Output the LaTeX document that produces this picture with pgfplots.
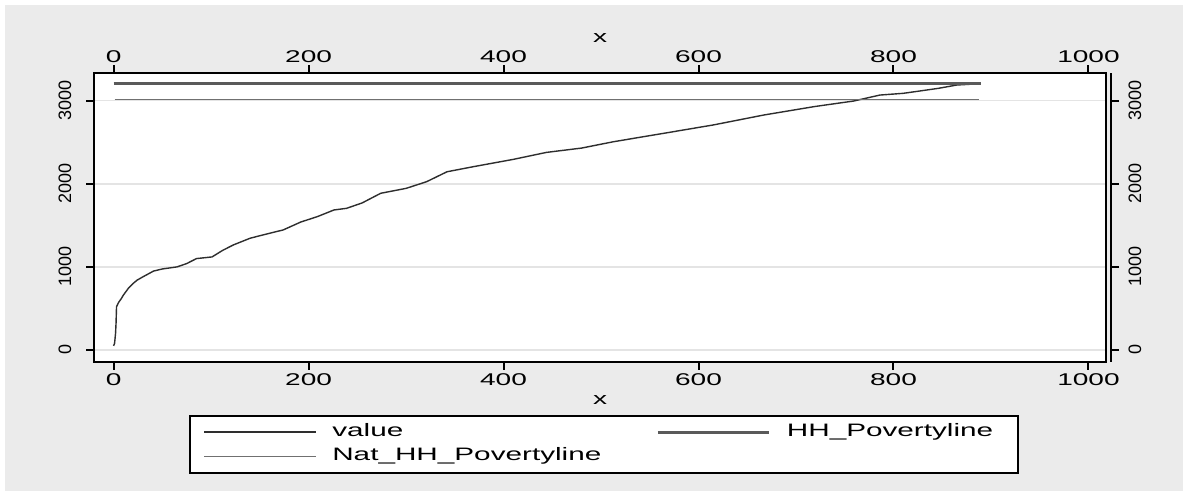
\documentclass[border=0pt]{standalone}
\usepackage{fontspec}
\setmainfont{Liberation Sans}
\newfontfamily\wide[FakeStretch=1.65]{Liberation Sans}
\usepackage{pgfplots}
\usepackage{pgfplotstable}
\pgfplotsset{compat=1.18}
\pgfplotsset{legend image code/.code={\draw[#1] (0pt,0pt) -- (111.6pt,0pt);}}
\definecolor{bggray}{HTML}{EBEBEB}
\definecolor{gridgray}{HTML}{E4E4E4}
\definecolor{hhgray}{HTML}{5A5A5A}
\definecolor{natgray}{HTML}{707070}
\definecolor{valcol}{HTML}{2E2E2E}

\pgfplotstableread{
x y
0 50
1 80
2 200
2.5 320
3 520
5 570
8 620
10 660
15 740
20 800
24 840
30 880
41 950
50 975
65 1000
75 1040
85 1100
101 1120
112 1200
123 1265
140 1345
155 1390
174 1445
192 1540
209 1605
226 1685
239 1705
255 1770
274 1886
300 1945
321 2025
342 2145
369 2206
410 2294
444 2378
480 2430
513 2507
564 2607
615 2708
667 2828
718 2928
742 2968
759 2996
786 3068
810 3089
827 3117
846 3149
865 3189
889 3205
}\valuedata

\pgfplotstableread{
x y
0 3210
890 3210
}\hhdata

\pgfplotstableread{
x y
1 3018
888 3018
}\natdata

\begin{document}
\begin{tikzpicture}
\fill[white] (0pt,0pt) rectangle (1188pt,496pt);
\fill[bggray] (5pt,5pt) rectangle (1183pt,491pt);
\pgfplotsset{commonax/.style={
  at={(94.3pt,134.3pt)}, anchor=south west, scale only axis,
  width=1011.7pt, height=288.4pt,
  xmin=-19.8, xmax=1018, ymin=-141, ymax=3330,
  tick align=outside, major tick length=8pt,
  tick style={line width=2pt, black},
  axis line style={-, line width=2pt, black},
  xtick={0,200,400,600,800,1000},
  xticklabels={0,200,400,600,800,1000},
  ytick={0,1000,2000,3000},
  yticklabels={0,1000,2000,3000},
  minor tick num=0,
}}
% main axis
\begin{axis}[commonax,
  axis background/.style={fill=white},
  xtick pos=lower, ytick pos=left,
  ymajorgrids, grid style={gridgray, line width=1.5pt},
  xticklabel style={font=\wide\fontsize{17}{20}\selectfont, anchor=center, yshift=-10pt},
  yticklabel style={font=\fontsize{18}{20}\selectfont, anchor=center, xshift=-21.3pt, rotate=90},
  xlabel={x},
  xlabel style={font=\wide\fontsize{17}{20}\selectfont, at={(axis description cs:0.5,-0.1328)}, anchor=center},
  legend columns=2,
  legend cell align=left,
  legend style={at={(axis description cs:0.0939,-0.1848)}, anchor=north west,
    draw=black, line width=2pt, fill=white,
    font=\wide\fontsize{18}{21}\selectfont,
    column sep=16pt, row sep=8.4pt, inner xsep=13pt, inner ysep=8.15pt,
    nodes={inner sep=0pt, text height=12pt, text depth=4pt},
    /tikz/column 2/.style={text width=308pt},
    /tikz/column 4/.style={text width=218pt}},
]
\addplot[valcol, line width=1.4pt] table[x=x,y=y] {\valuedata};
\addlegendentry{value}
\addplot[hhgray, line width=3pt] table[x=x,y=y] {\hhdata};
\addlegendentry{HH\_Povertyline}
\addplot[natgray, line width=1.4pt] table[x=x,y=y] {\natdata};
\addlegendentry{Nat\_HH\_Povertyline}
\end{axis}
% top axis
\begin{axis}[commonax,
  axis x line*=top, axis y line=none,
  xticklabel style={font=\wide\fontsize{17}{20}\selectfont, anchor=center, yshift=9pt},
  xlabel={x},
  xlabel style={font=\wide\fontsize{17}{20}\selectfont, at={(axis description cs:0.5,1.122)}, anchor=center},
]
\end{axis}
% right axis
\begin{axis}[commonax, at={(99.3pt,134.3pt)},
  axis x line=none, axis y line*=right,
  yticklabel style={font=\fontsize{18}{20}\selectfont, anchor=center, xshift=16pt, rotate=90},
]
\end{axis}
\end{tikzpicture}
\end{document}
